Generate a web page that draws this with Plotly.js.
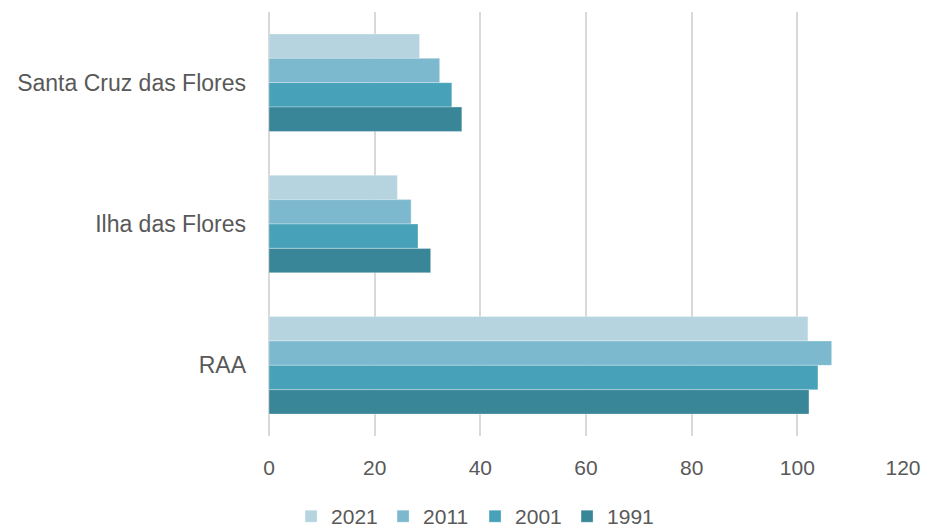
<!DOCTYPE html>
<html>
<head>
<meta charset="utf-8">
<script src="https://cdn.plot.ly/plotly-3.0.1.min.js"></script>
<style>html,body{margin:0;padding:0;background:#fff;}#chart{width:925px;height:529px;}</style>
</head>
<body>
<div id="chart"></div>
<script>
const categories = ["Santa Cruz das Flores", "Ilha das Flores", "RAA"];
const seriesNames = ["2021", "2011", "2001", "1991"];
const values2021 = [28.5, 24.3, 102.0];
const values2011 = [32.3, 26.9, 106.5];
const values2001 = [34.6, 28.2, 103.9];
const values1991 = [36.5, 30.6, 102.2];
const xTicks = [0, 20, 40, 60, 80, 100, 120];
const colors = ["#b6d4df", "#7cb9cf", "#47a2b9", "#398699"];

const allValues = [values2021, values2011, values2001, values1991];
const traces = seriesNames.map((name, i) => ({
  type: "bar",
  orientation: "h",
  name: name,
  x: allValues[i],
  y: categories,
  marker: { color: colors[i], line: { color: "rgba(255,255,255,0.6)", width: 0.5 } },
  hoverinfo: "x+name"
}));

const layout = {
  width: 925,
  height: 529,
  margin: { l: 269, r: 22, t: 12, b: 93, autoexpand: false },
  paper_bgcolor: "#ffffff",
  plot_bgcolor: "#ffffff",
  font: { family: "Liberation Sans, Arial, Helvetica, sans-serif", size: 21, color: "#595959" },
  barmode: "group",
  bargap: 0.31,
  bargroupgap: 0,
  xaxis: {
    range: [0, 120],
    tickvals: xTicks,
    ticktext: xTicks.map(String),
    showgrid: true,
    gridcolor: "#d9d9d9",
    gridwidth: 2,
    zeroline: true,
    zerolinecolor: "#d9d9d9",
    zerolinewidth: 2,
    showline: false,
    ticks: "",
    ticklen: 0,
    ticklabelstandoff: 17,
    tickfont: { size: 21, color: "#595959" },
    fixedrange: true
  },
  yaxis: {
    type: "category",
    autorange: "reversed",
    showgrid: false,
    zeroline: false,
    showline: false,
    ticks: "",
    ticklabelstandoff: 22,
    tickfont: { size: 23, color: "#595959" },
    fixedrange: true
  },
  showlegend: true,
  legend: {
    orientation: "h",
    xref: "paper",
    x: 0.325,
    xanchor: "center",
    y: -0.19,
    yanchor: "middle",
    font: { size: 21, color: "#595959" },
    traceorder: "normal",
    entrywidth: 47,
    entrywidthmode: "pixels"
  }
};

Plotly.newPlot("chart", traces, layout, { displayModeBar: false, staticPlot: true });
</script>
</body>
</html>
